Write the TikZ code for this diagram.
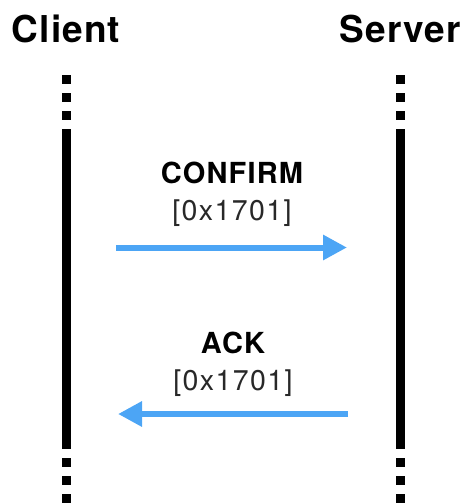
\documentclass[tikz,border=0pt]{standalone}
\usepackage{fontspec}
\setmainfont{TeX Gyre Heros}
\newfontfamily\titlefont{TeX Gyre Heros}[LetterSpace=3]
\newfontfamily\msgfont{TeX Gyre Heros}[LetterSpace=4]
\newfontfamily\codefont{TeX Gyre Heros}[LetterSpace=5]
\usetikzlibrary{arrows.meta}
\definecolor{msgblue}{RGB}{76,165,245}
\definecolor{codegray}{RGB}{40,40,40}
\tikzset{
  party/.style={anchor=base, inner sep=0pt, font=\titlefont\bfseries\fontsize{37}{37}\selectfont},
  msgname/.style={anchor=base, inner sep=0pt, font=\msgfont\bfseries\fontsize{29}{29}\selectfont},
  msgcode/.style={anchor=base, inner sep=0pt, text=codegray, font=\codefont\fontsize{28.5}{28.5}\selectfont},
  lifeline/.style={line width=9pt, line cap=butt},
  lifedots/.style={lifeline, dash pattern=on 9pt off 9pt},
  message/.style={msgblue, line width=6pt, -{Triangle[length=24pt,width=24pt]}},
}
\begin{document}
\begin{tikzpicture}[x=1pt,y=-1pt]
  \useasboundingbox (0,0) rectangle (466,504);

  % participants
  \node[party] (client) at (66,42) {Client};
  \node[party] (server) at (400,42) {Server};

  % lifeline end points
  \coordinate (cTop) at (66,75);
  \coordinate (cA) at (66,129);
  \coordinate (cB) at (66,449);
  \coordinate (cBot) at (66,503);
  \coordinate (sTop) at (400,75);
  \coordinate (sA) at (400,129);
  \coordinate (sB) at (400,449);
  \coordinate (sBot) at (400,503);

  \draw[lifedots] (cTop) -- ([yshift=-9pt]cA);
  \draw[lifeline] (cA) -- (cB);
  \draw[lifedots] ([yshift=9pt]cB) -- (cBot);
  \draw[lifedots] (sTop) -- ([yshift=-9pt]sA);
  \draw[lifeline] (sA) -- (sB);
  \draw[lifedots] ([yshift=9pt]sB) -- (sBot);

  % CONFIRM request
  \node[msgname] (confirm) at (232,183) {CONFIRM};
  \node[msgcode] (confirmcode) at (232,220) {[0x1701]};
  \coordinate (m1s) at (116,247.5);
  \coordinate (m1e) at (347,247.5);
  \draw[message] (m1s) -- (m1e);

  % ACK reply
  \node[msgname] (ack) at (233,353) {ACK};
  \node[msgcode] (ackcode) at (233,390) {[0x1701]};
  \coordinate (m2s) at (348,414);
  \coordinate (m2e) at (118,414);
  \draw[message] (m2s) -- (m2e);
\end{tikzpicture}
\end{document}
